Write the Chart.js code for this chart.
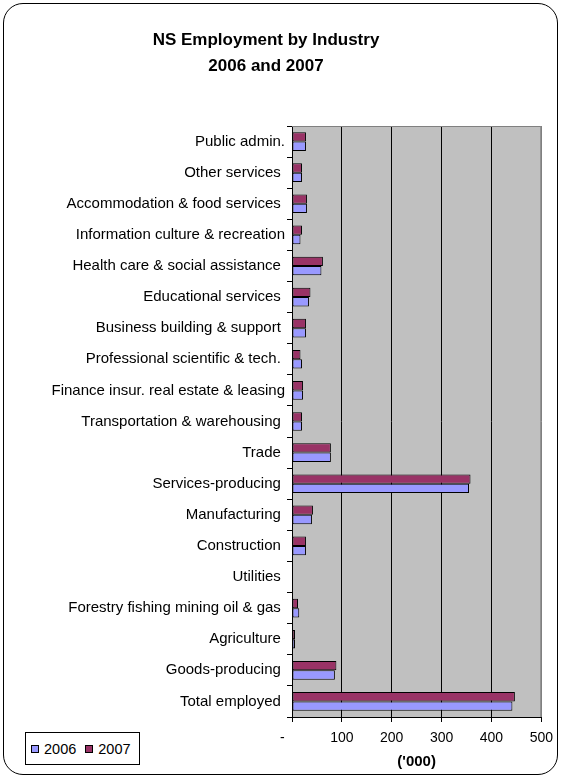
<!DOCTYPE html>
<html>
<head>
<meta charset="utf-8">
<title>NS Employment by Industry</title>
<script src="https://cdn.jsdelivr.net/npm/chart.js@4.4.1/dist/chart.umd.min.js"></script>
<style>
    html, body { margin: 0; padding: 0; background: #fff; }
    #wrap { position: relative; width: 561px; height: 777px; }
    #frame {
        position: absolute; left: 3px; top: 3px; width: 555px; height: 772px;
        border: 1.5px solid #000; border-radius: 20px; box-sizing: border-box; pointer-events: none;
    }
    #chart { position: absolute; left: 0; top: 0; }
    #legend {
        position: absolute; left: 25px; top: 732px; width: 115px; height: 33px;
        border: 1px solid #000; box-sizing: border-box; background: #fff;
        font: 14.5px "Liberation Sans", Arial, sans-serif; color: #000;
        display: flex; align-items: center; padding-left: 5px;
    }
    .sw { display: inline-block; width: 8px; height: 8px; border: 1px solid #000; box-sizing: border-box; margin-right: 5px; }
    .item { display: flex; align-items: center; margin-right: 9px; }
</style>
</head>
<body>
<div id="wrap">
    <canvas id="chart" width="561" height="777"></canvas>
    <div id="frame"></div>
    <div id="legend"></div>
</div>
<script>
// Chart data ('000 employed), categories listed top to bottom
const titleLines = ['NS Employment by Industry', '2006 and 2007'];
const categories = [
    'Public admin.',
    'Other services ',
    'Accommodation & food services ',
    'Information culture & recreation',
    'Health care & social assistance ',
    'Educational services ',
    'Business building & support ',
    'Professional scientific & tech. ',
    'Finance insur. real estate & leasing',
    'Transportation & warehousing ',
    'Trade ',
    'Services-producing ',
    'Manufacturing ',
    'Construction ',
    'Utilities ',
    'Forestry fishing mining oil & gas ',
    'Agriculture ',
    'Goods-producing ',
    'Total employed '
];
const values2006 = [28, 20, 30, 17, 59, 34, 28, 20, 22, 20, 78, 355, 40, 28, 0, 14.5, 6, 86, 442];
const values2007 = [28, 20, 30, 20, 62, 37, 28, 17, 22, 20, 78, 358, 42, 28, 0, 12, 6, 89, 447];
const xTickValues = [0, 100, 200, 300, 400, 500];
const xTickLabels = ['-     ', '100', '200', '300', '400', '500'];
const axisTitle = "('000)";

const FONT = '"Liberation Sans", Arial, sans-serif';

// Grey plot area background like the spreadsheet original
const plotBackground = {
    id: 'plotBackground',
    beforeDraw(chart) {
        const { ctx, chartArea: a } = chart;
        ctx.save();
        ctx.fillStyle = '#c0c0c0';
        ctx.fillRect(a.left, a.top, a.right - a.left, a.bottom - a.top);
        ctx.restore();
    },
    beforeDatasetsDraw(chart) {
        const { ctx, chartArea: a } = chart;
        ctx.save();
        ctx.strokeStyle = '#808080';
        ctx.lineWidth = 1;
        ctx.beginPath();
        ctx.moveTo(a.left, a.top + 0.5);
        ctx.lineTo(a.right - 0.5, a.top + 0.5);
        ctx.lineTo(a.right - 0.5, a.bottom);
        ctx.stroke();
        ctx.restore();
    }
};

// Two-line title, centred over the left part like the original
const chartTitle = {
    id: 'chartTitle',
    afterDraw(chart) {
        const ctx = chart.ctx;
        ctx.save();
        ctx.font = 'bold 17px ' + FONT;
        ctx.fillStyle = '#000';
        ctx.textAlign = 'center';
        ctx.textBaseline = 'alphabetic';
        titleLines.forEach((line, i) => ctx.fillText(line, 266, 45 + i * 26));
        ctx.restore();
    }
};

const datasets = [
    { label: '2007', data: values2007, backgroundColor: '#993366' },
    { label: '2006', data: values2006, backgroundColor: '#9999ff' }
].map(d => Object.assign(d, {
    borderColor: '#000',
    borderWidth: 1,
    borderSkipped: false,
    categoryPercentage: 0.6,
    barPercentage: 1.0
}));

const chart = new Chart(document.getElementById('chart'), {
    type: 'bar',
    data: { labels: categories, datasets: datasets },
    options: {
        indexAxis: 'y',
        responsive: false,
        animation: false,
        layout: { padding: { top: 126, right: 16, bottom: 0, left: 0 } },
        plugins: {
            legend: { display: false },
            title: { display: false },
            tooltip: { enabled: false }
        },
        scales: {
            x: {
                min: 0,
                max: 500,
                afterBuildTicks: (scale) => {
                    scale.ticks = xTickValues.map(v => ({ value: v }));
                },
                afterFit: (scale) => { scale.height = 60; },
                grid: {
                    color: (ctx) => (ctx.tick && ctx.tick.value === 500) ? '#808080' : '#000',
                    tickColor: '#000',
                    tickLength: 5,
                    lineWidth: 1
                },
                border: { display: true, color: '#000', width: 1 },
                ticks: {
                    color: '#000',
                    padding: 8,
                    maxRotation: 0,
                    font: { family: FONT, size: 14 },
                    callback: (value) => {
                        const i = xTickValues.indexOf(value);
                        return i >= 0 ? xTickLabels[i] : '';
                    }
                },
                title: {
                    display: true,
                    text: axisTitle,
                    color: '#000',
                    font: { family: FONT, size: 15, weight: 'bold' },
                    padding: { top: 0, bottom: 6 }
                }
            },
            y: {
                afterFit: (scale) => { scale.width = 292; },
                grid: {
                    drawOnChartArea: false,
                    drawTicks: true,
                    tickLength: 5,
                    tickColor: '#000',
                    offset: true
                },
                border: { display: true, color: '#000', width: 1 },
                ticks: {
                    color: '#000',
                    padding: 2,
                    autoSkip: false,
                    font: { family: FONT, size: 15 }
                }
            }
        }
    },
    plugins: [plotBackground, chartTitle]
});

// HTML legend in the original order (2006 first)
const legendBox = document.getElementById('legend');
datasets.slice().reverse().forEach(d => {
    const item = document.createElement('span');
    item.className = 'item';
    const sw = document.createElement('span');
    sw.className = 'sw';
    sw.style.background = d.backgroundColor;
    item.appendChild(sw);
    item.appendChild(document.createTextNode(d.label));
    legendBox.appendChild(item);
});
</script>
</body>
</html>
